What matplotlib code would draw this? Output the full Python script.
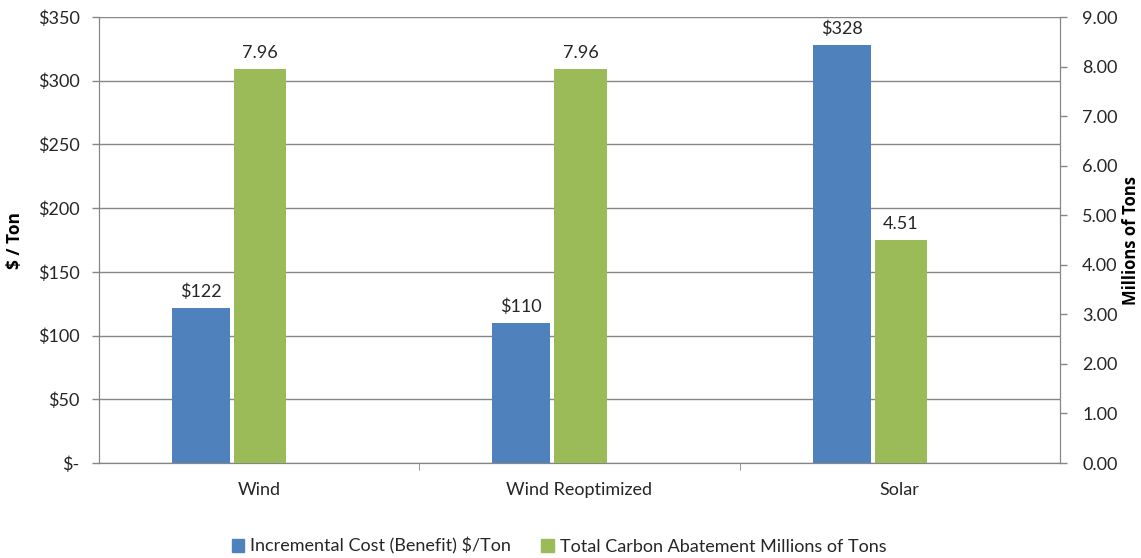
import matplotlib
matplotlib.use("Agg")
import matplotlib.pyplot as plt
from matplotlib.patches import Patch
import numpy as np

categories = ["Wind", "Wind Reoptimized", "Solar"]
cost = [122, 110, 328]
abatement = [7.96, 7.96, 4.51]
cost_labels = ["$122", "$110", "$328"]
abate_labels = ["7.96", "7.96", "4.51"]
left_ticks = [0, 50, 100, 150, 200, 250, 300, 350]
left_ticklabels = ["$-", "$50", "$100", "$150", "$200", "$250", "$300", "$350"]
right_ticks = [0, 1, 2, 3, 4, 5, 6, 7, 8, 9]
series_names = ["Incremental Cost (Benefit) $/Ton", "Total Carbon Abatement Millions of Tons"]

blue = "#4F81BD"
green = "#9BBB59"
grid_c = "#868686"
txt = "#262626"
fs = 13

plt.rcParams['font.family'] = ['Lato', 'DejaVu Sans']

fig = plt.figure(figsize=(11.41, 5.58), dpi=100)
ax = fig.add_axes([99/1141, 1-463/558, (1060-99)/1141, (463-17)/558])
ax2 = ax.twinx()

x = np.arange(len(categories))
ax.bar(x - 0.182, cost, width=0.181, color=blue, zorder=3)
ax2.bar(x + 0.003, abatement, width=0.163, color=green, zorder=3)

ax.set_xlim(-0.5, 2.5)
ax.set_ylim(0, 350)
ax2.set_ylim(0, 9)
ax.set_yticks(left_ticks)
ax.set_yticklabels(left_ticklabels)
ax2.set_yticks(right_ticks)
ax2.set_yticklabels([f"{v:.2f}" for v in right_ticks])

ax.yaxis.grid(True, color=grid_c, linewidth=1, zorder=0)
ax.set_axisbelow(True)

for a in (ax, ax2):
    for s in a.spines.values():
        s.set_color(grid_c)
    a.spines['top'].set_visible(False)
    a.tick_params(axis='y', colors=grid_c, labelcolor=txt, labelsize=fs, length=5, width=1)

ax.tick_params(axis='y', pad=9)
ax2.tick_params(axis='y', pad=11)

ax.set_xticks(x)
ax.set_xticklabels(categories, fontsize=fs, color=txt)
ax.tick_params(axis='x', length=0, pad=14)
ax.set_xticks([0.5, 1.5], minor=True)
ax.tick_params(axis='x', which='minor', length=5, color=grid_c)

for i in range(len(categories)):
    ax.text(x[i] - 0.182, cost[i] + 6, cost_labels[i], ha='center', va='bottom', fontsize=fs, color=txt)
    ax2.text(x[i] + 0.003, abatement[i] + 0.155, abate_labels[i], ha='center', va='bottom', fontsize=fs, color=txt)

fig.text(15/1141, 1-240/558, "$ / Ton", rotation=90, ha='center', va='center', fontsize=12.5,
         fontweight='bold', color='black', family=['Open Sans', 'DejaVu Sans'])
fig.text(1131/1141, 1-240/558, "Millions of Tons", rotation=90, ha='center', va='center', fontsize=12,
         fontweight='bold', color='black', family=['Open Sans', 'DejaVu Sans'])

handles = [Patch(color=blue), Patch(color=green)]
fig.legend(handles, series_names, loc='center', bbox_to_anchor=(559/1141, 1-546/558), ncol=2,
           frameon=False, fontsize=fs, handlelength=0.7, handleheight=0.7, handletextpad=0.3,
           columnspacing=1.7, labelcolor=txt)

fig.savefig("out.png", dpi=100)
